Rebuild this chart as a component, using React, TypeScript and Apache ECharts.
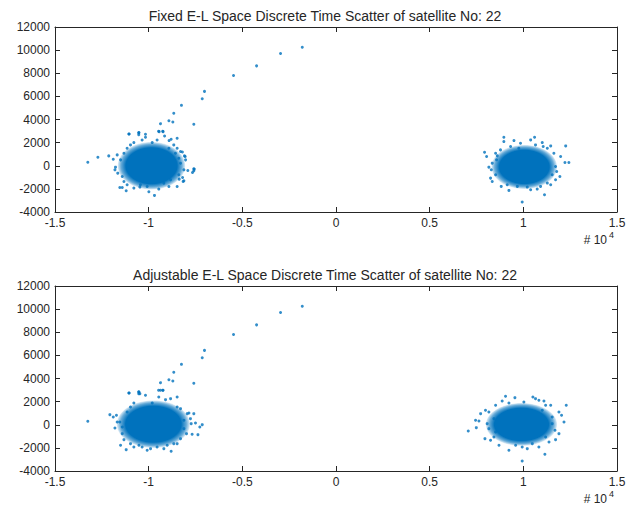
import React, { useEffect, useRef } from "react";
import * as echarts from "echarts";

// x values are in units of 10^4 (as shown by the axis multiplier)
const xTicks = [-1.5, -1, -0.5, 0, 0.5, 1, 1.5];
const yTicks = [-4000, -2000, 0, 2000, 4000, 6000, 8000, 10000, 12000];

const titles = [
  "Fixed E-L Space Discrete Time Scatter of satellite No: 22",
  "Adjustable E-L Space Discrete Time Scatter of satellite No: 22",
];

// diagonal transition points (same in both panels)
const linePoints: number[][] = [
  [-0.18, 10250], [-0.296, 9707], [-0.424, 8638], [-0.547, 7810], [-0.702, 6432],
  [-0.714, 5794], [-0.825, 5224], [-0.866, 4535], [-0.892, 3897], [-0.871, 3785],
  [-0.937, 3639], [-0.759, 3587], [-0.947, 2983], [-0.925, 2983], [-1.106, 2750],
  [-1.053, 2860], [-1.053, 2690],
];

// dense cores of the point clouds: [centerX, centerY, radiusX, radiusY]
const fixedCores: number[][] = [
  [-0.985, 0, 0.18, 2050],
  [1.005, -100, 0.175, 1900],
];
const adjCores: number[][] = [
  [-0.975, 50, 0.195, 2050],
  [0.99, 30, 0.19, 1850],
];

const fixedLeft: number[][] = [
  [-1.104, 2750], [-1.052, 2865], [-1.017, 2722], [-1.017, 2463], [-0.944, 2951],
  [-0.923, 2951], [-0.848, 2377], [-0.891, 2176], [-0.88, 2291], [-0.915, 2578],
  [-1.325, 308], [-1.271, 739], [-1.213, 854], [-1.189, 567], [-1.168, 940],
  [-1.18, -353], [-1.177, -123], [-1.154, -1875], [-1.12, -2162], [-1.079, -1933],
  [-1.047, -1846], [-0.999, -2248], [-0.969, -2565], [-0.946, -2019], [-0.892, -1789],
  [-0.848, -1789], [-0.837, -1157], [-0.812, -1301], [-0.812, -353], [-0.791, -410],
  [-0.766, -582], [-0.757, -295], [-0.803, 509], [-0.809, 854], [-0.83, 1228],
  [-0.848, 1515], [-0.866, 1802], [-1.079, 2003], [-1.097, 1802], [-1.035, 2233],
  [-0.981, 2003], [-0.955, 2233], [-1.132, -1358], [-1.141, -927], [-1.165, -640],
  [-1.115, -1645], [-0.83, 222], [-0.839, 653], [-0.919, -1502], [-1.008, -1789],
  [-1.044, -1645], [-1.15, 509], [-1.132, 1084], [-1.115, 1515], [-0.892, 1515],
  [-0.857, 1084], [-0.839, -783], [-0.883, -1214], [-0.819, -1013], [-0.759, -266],
  [-0.759, -440], [-0.816, -1361], [-0.805, 794], [-0.82, 1190], [-1.141, -1880],
];

const fixedRight: number[][] = [
  [0.896, 2464], [0.896, 2090], [0.95, 2177], [0.985, 1947], [1.039, 2234],
  [1.06, 2464], [1.101, 2004], [1.106, 1660], [1.146, 1717], [1.226, 1717],
  [1.199, 798], [1.222, 281], [1.243, 281], [1.172, -64], [1.195, -926],
  [1.172, -1214], [1.146, -1644], [1.113, -2506], [1.074, -2018], [1.039, -2075],
  [0.994, -3138], [0.923, -2133], [0.882, -1788], [0.834, -1357], [0.825, -1070],
  [0.829, -352], [0.816, -122], [0.793, 1171], [0.804, 798], [0.852, 1085],
  [0.861, 855], [0.834, 223], [0.878, 1372], [0.932, 1660], [1.163, 1085],
  [1.178, -495], [1.154, -783], [1.128, -1501], [1.092, -1788], [1.021, -1846],
  [0.968, -1788], [0.914, -1644], [0.852, -783], [0.857, 510], [1.128, 1516],
  [1.065, 1803], [0.976, 1516],
];

const adjLeft: number[][] = [
  [-1.325, 297], [-1.207, 874], [-1.189, 672], [-1.172, 816], [-1.18, -280],
  [-1.154, 239], [-1.141, -770], [-1.132, -1289], [-1.15, -1779], [-1.12, -2154],
  [-1.079, -1923], [-1.052, -1779], [-1.008, -2211], [-0.955, -1923], [-0.88, -2298],
  [-0.901, -1779], [-0.848, -1635], [-0.83, -1202], [-0.798, -770], [-0.768, -827],
  [-0.737, -856], [-0.727, -193], [-0.714, 8], [-0.75, 153], [-0.773, 95],
  [-0.794, 960], [-0.785, 1018], [-0.759, 960], [-0.83, 1392], [-0.848, 1537],
  [-0.91, 2171], [-0.883, 2257], [-0.848, 2402], [-0.937, 2978], [-0.923, 2978],
  [-0.946, 2402], [-1.017, 2546], [-1.047, 2690], [-1.052, 2834], [-1.104, 2747],
  [-0.981, 1883], [-1.079, 1883], [-1.097, 1537], [-1.115, 1104], [-1.168, 239],
  [-0.812, -337], [-0.866, -1635], [-0.919, -2067], [-0.99, -2067], [-1.035, -1923],
  [-1.097, -1635], [-1.141, -193], [-0.777, 528], [-0.812, 383],
];

const adjRight: number[][] = [
  [0.905, 2459], [0.955, 2344], [1.051, 2401], [1.065, 2257], [0.887, 2055],
  [0.923, 1882], [1.003, 1969], [1.11, 2055], [1.146, 1681], [1.229, 1681],
  [0.772, 960], [0.798, 1248], [0.816, 1104], [0.745, 383], [0.763, 326],
  [0.706, -539], [0.749, -251], [0.807, 95], [0.816, -337], [0.795, -1202],
  [0.825, -1346], [0.843, -1058], [0.87, -1779], [0.923, -2211], [0.994, -1923],
  [1.021, -2067], [1.083, -1923], [1.115, -2557], [0.994, -3134], [1.137, -1491],
  [1.172, -1289], [1.19, -770], [1.217, 239], [1.204, 816], [1.19, 1104],
  [1.154, 672], [1.169, -482], [1.154, 95], [1.119, 1681], [0.852, 1681],
  [1.083, 2113], [1.101, 1248], [0.843, 527], [0.852, -626], [0.959, -1779],
  [1.048, -1635], [1.119, -1058],
];

const BLUE = "#0072BD";
const INK = "#262626";
const FONT = "'Liberation Sans', Arial, sans-serif";

const gridsPx = [
  { left: 55, top: 27, width: 562, height: 185 },
  { left: 55, top: 286, width: 562, height: 185 },
];

function App() {
  const ref = useRef<HTMLDivElement>(null);
  useEffect(() => {
    if (!ref.current) return;
    const chart = echarts.init(ref.current, null, { renderer: "svg" });

    const xMin = xTicks[0], xMax = xTicks[xTicks.length - 1];
    const yMin = yTicks[0], yMax = yTicks[yTicks.length - 1];
    const xAxes: any[] = [];
    const yAxes: any[] = [];
    gridsPx.forEach((_, g) => {
      const common = {
        type: "value",
        gridIndex: g,
        splitLine: { show: false },
        axisLine: { show: true, onZero: false, lineStyle: { color: INK, width: 1 } },
        axisTick: { show: true, inside: true, length: 5, lineStyle: { color: INK } },
      };
      xAxes.push({
        ...common, position: "bottom", min: xMin, max: xMax, interval: 0.5,
        axisLabel: { color: INK, fontSize: 12, fontFamily: FONT, margin: 5, formatter: (v: number) => String(v) },
      });
      xAxes.push({
        ...common, position: "top", min: xMin, max: xMax, interval: 0.5,
        axisLabel: { show: false },
      });
      yAxes.push({
        ...common, position: "left", min: yMin, max: yMax, interval: 2000,
        axisLabel: { color: INK, fontSize: 12, fontFamily: FONT, margin: 5, formatter: (v: number) => String(v) },
      });
      yAxes.push({
        ...common, position: "right", min: yMin, max: yMax, interval: 2000,
        axisLabel: { show: false },
      });
    });

    const coreSeries = (data: number[][], g: number) => ({
      type: "custom",
      xAxisIndex: g * 2,
      yAxisIndex: g * 2,
      z: 1,
      silent: true,
      data,
      encode: { x: 0, y: 1 },
      renderItem: (_p: any, api: any) => {
        const c = api.coord([api.value(0), api.value(1)]);
        const s = api.size([api.value(2), api.value(3)]);
        return {
          type: "ellipse",
          shape: { cx: c[0], cy: c[1], rx: s[0], ry: s[1] },
          style: {
            fill: new echarts.graphic.RadialGradient(0.5, 0.5, 0.5, [
              { offset: 0, color: "rgba(0,114,189,1)" },
              { offset: 0.76, color: "rgba(0,114,189,1)" },
              { offset: 0.9, color: "rgba(0,114,189,0.6)" },
              { offset: 1, color: "rgba(0,114,189,0.12)" },
            ]),
          },
        };
      },
    });
    const pts = (data: number[][], g: number) => ({
      type: "scatter",
      xAxisIndex: g * 2,
      yAxisIndex: g * 2,
      symbol: "circle",
      symbolSize: 3,
      z: 2,
      silent: true,
      itemStyle: { color: BLUE },
      data,
    });

    chart.setOption({
      animation: false,
      backgroundColor: "#ffffff",
      textStyle: { fontFamily: FONT },
      grid: gridsPx.map((g) => ({ ...g, containLabel: false })),
      xAxis: xAxes,
      yAxis: yAxes,
      series: [
        coreSeries(fixedCores, 0),
        pts(fixedLeft, 0),
        pts(fixedRight, 0),
        pts(linePoints, 0),
        coreSeries(adjCores, 1),
        pts(adjLeft, 1),
        pts(adjRight, 1),
        pts(linePoints, 1),
      ],
      graphic: [
        { type: "text", x: 325, y: 16, style: { text: titles[0], font: `14px ${FONT}`, fill: INK, textAlign: "center", textVerticalAlign: "middle" } },
        { type: "text", x: 325, y: 275, style: { text: titles[1], font: `14px ${FONT}`, fill: INK, textAlign: "center", textVerticalAlign: "middle" } },
        { type: "text", x: 607, y: 240, style: { text: "# 10", font: `12px ${FONT}`, fill: INK, textAlign: "right", textVerticalAlign: "middle" } },
        { type: "text", x: 609, y: 235, style: { text: "4", font: `9px ${FONT}`, fill: INK, textAlign: "left", textVerticalAlign: "middle" } },
        { type: "text", x: 607, y: 499, style: { text: "# 10", font: `12px ${FONT}`, fill: INK, textAlign: "right", textVerticalAlign: "middle" } },
        { type: "text", x: 609, y: 494, style: { text: "4", font: `9px ${FONT}`, fill: INK, textAlign: "left", textVerticalAlign: "middle" } },
      ],
    });
    return () => chart.dispose();
  }, []);
  return (
    <div
      ref={ref}
      style={{ position: "fixed", left: 0, top: 0, width: 638, height: 506, background: "#fff" }}
    />
  );
}

export default App;
